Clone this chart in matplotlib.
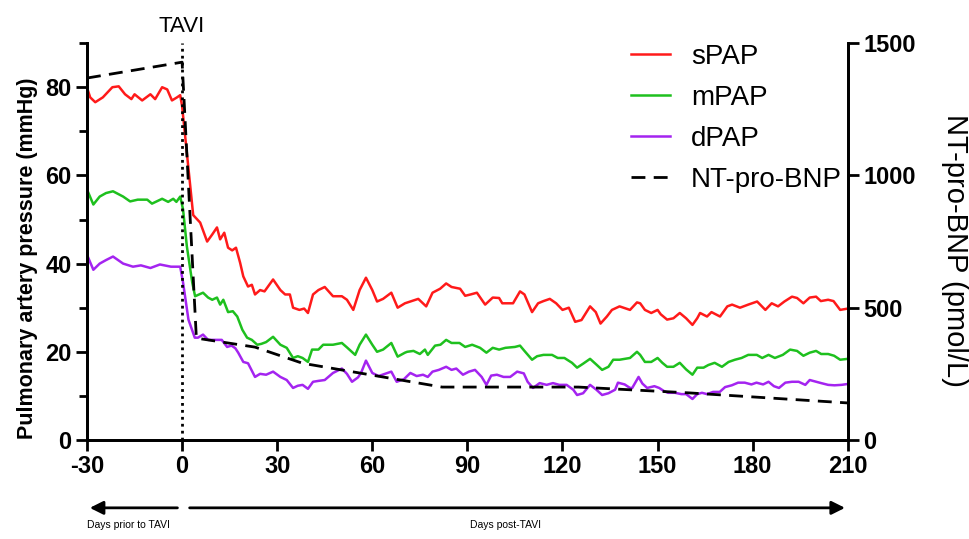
import numpy as np
import matplotlib.pyplot as plt
from matplotlib.ticker import MultipleLocator

plt.rcParams['font.family'] = ['Liberation Sans', 'DejaVu Sans']
plt.rcParams['axes.unicode_minus'] = False

# sPAP (mmHg)
spap_day = [-30, -29, -27.4, -25, -22, -20, -18, -16, -15, -12.6, -10, -8.5, -6.3, -4.7, -3.2, -1.6, -0.6,
            0, 1.5, 3.5, 5.7, 7.9, 9.5, 11, 12, 13.3, 14.5, 15.8, 17, 18.3, 19.3, 20.8, 22, 23, 24.6, 26,
            28.7, 31, 32.5, 34, 35, 37, 38.5, 39.7, 41.3, 43, 45, 47.6, 50.4, 52, 54, 56, 58, 60, 61.5,
            63.4, 66, 68, 70.3, 72, 74.5, 77, 79, 81.4, 83.3, 85, 87.7, 89.3, 91, 93, 95.6, 98, 100, 101,
            104.4, 106.6, 108, 110.4, 112.3, 114, 116, 118, 120, 122, 124, 126, 128.7, 130.5, 132, 134,
            135.6, 138, 141.3, 143.5, 144.5, 146, 148, 150, 151, 153, 155, 157, 159, 161, 162.5, 163.4,
            165.6, 167, 169.7, 172, 173.5, 176, 178.6, 181.4, 184, 186, 188, 190, 192.4, 194, 196, 198,
            200, 201.5, 203.8, 205.5, 207.6, 210]
spap = [79.9, 77.7, 76.6, 77.7, 80.0, 80.2, 78.4, 77.3, 78.4, 77.0, 78.4, 77.3, 80.0, 79.5, 77.0, 77.7, 78.2,
        75.7, 65.2, 51.0, 49.3, 45.0, 46.6, 48.2, 45.5, 47.0, 43.6, 43.0, 43.6, 40.2, 37.1, 34.8, 35.2, 33.0,
        34.0, 33.7, 36.4, 34.0, 33.0, 33.0, 30.0, 29.5, 29.8, 28.8, 33.0, 34.0, 34.7, 32.6, 32.6, 31.8, 29.5,
        34.0, 36.8, 34.0, 31.4, 32.0, 33.4, 30.0, 31.0, 31.4, 32.0, 30.3, 33.4, 34.3, 35.5, 34.7, 34.3, 32.7,
        33.0, 33.4, 30.7, 32.3, 32.2, 31.0, 31.0, 33.7, 33.0, 29.0, 31.0, 31.5, 32.0, 31.0, 29.5, 30.0, 26.8,
        27.2, 30.3, 29.0, 26.4, 28.0, 29.5, 30.3, 29.5, 31.2, 31.0, 29.5, 28.8, 29.5, 28.5, 27.3, 27.6, 28.8,
        27.6, 26.1, 27.6, 28.8, 28.0, 29.0, 28.0, 30.3, 30.7, 30.0, 30.7, 31.4, 29.5, 31.0, 30.3, 31.4, 32.5,
        32.2, 31.0, 32.3, 32.5, 31.5, 31.8, 31.5, 29.5, 29.8]

# mPAP (mmHg)
mpap_day = [-30, -28, -26, -24, -21.8, -18.6, -16.4, -14, -11, -9.5, -6.3, -4.4, -2.8, -1.8, -0.6, 0.3, 1.5,
            3.2, 4.1, 6.6, 8.2, 9.5, 11, 12, 13, 14.5, 16, 17.4, 19, 20.5, 22, 23.7, 25, 26.5, 28.7, 31, 33,
            35, 36.5, 38, 39.7, 41, 43, 44.5, 47.6, 50.4, 52, 54.6, 56, 58, 60, 61.5, 63.4, 66, 68, 70.3, 71,
            73, 75, 76.6, 77.5, 79.8, 81.5, 83.3, 85, 87.5, 89.3, 91.5, 94, 96, 98, 100, 102, 105, 106.6, 108,
            110.4, 112, 114, 116.7, 118.5, 120.6, 123, 124.6, 126.5, 128.7, 130.7, 132.5, 134.5, 136, 138,
            141.3, 143.5, 144.5, 146, 148, 150, 151.5, 153, 155, 157, 159, 161, 162.5, 164.5, 166, 168, 170.3,
            172.4, 174.4, 176.5, 178.6, 181.3, 183, 185, 187, 189.5, 191.8, 194, 196, 198, 200, 201.6, 203.8,
            205.7, 207.6, 210]
mpap = [56.8, 53.4, 55.2, 56.0, 56.4, 55.2, 54.1, 54.5, 54.5, 53.6, 54.7, 54.0, 54.7, 54.0, 55.2, 52.3, 43.9,
        35.7, 32.6, 33.4, 32.3, 31.8, 32.3, 30.7, 31.8, 29.0, 29.2, 28.0, 25.0, 23.2, 22.7, 21.6, 21.8, 22.2,
        23.4, 21.6, 20.9, 18.6, 19.0, 18.6, 17.7, 20.5, 20.5, 21.6, 21.6, 22.0, 21.0, 19.3, 21.6, 23.9, 21.6,
        20.0, 20.5, 22.0, 18.9, 19.8, 20.0, 20.2, 19.5, 20.5, 19.3, 21.4, 21.6, 22.7, 22.0, 22.0, 21.1, 21.6,
        20.9, 19.8, 20.9, 20.5, 20.9, 21.1, 21.4, 20.2, 18.2, 19.0, 19.3, 19.3, 18.6, 18.6, 17.5, 16.4, 17.3,
        18.4, 17.1, 15.9, 16.6, 18.2, 18.2, 18.6, 20.0, 19.3, 17.7, 17.7, 18.6, 17.5, 16.6, 16.6, 17.5, 16.0,
        14.8, 16.4, 16.4, 17.0, 17.5, 16.6, 17.7, 18.2, 18.6, 19.3, 19.3, 18.6, 19.3, 18.6, 19.3, 20.5, 20.2,
        19.1, 19.8, 20.2, 19.5, 19.5, 19.1, 18.2, 18.4]

# dPAP (mmHg)
dpap_day = [-30, -28, -26, -24, -21.8, -18.6, -15.5, -13, -10, -7, -3.5, -0.6, 0.3, 2, 4, 5, 6.6, 8.2, 10.4,
            12.5, 14.2, 15.6, 16.8, 17.7, 19.3, 20.8, 23, 24.6, 26.5, 28.7, 31, 33, 35, 36.5, 38, 39.7, 41.3,
            43, 45, 47.6, 50.4, 52, 53.6, 55.5, 56.5, 58, 60, 62, 64, 66, 67.7, 70, 72, 74, 76, 77.5, 79, 81,
            83.3, 85, 86.5, 88.6, 90.5, 92.4, 94.5, 96, 97.5, 99.3, 101.4, 103.5, 105.7, 107.8, 109, 110.7,
            112.8, 115, 117, 119, 121.3, 123.4, 124.6, 126.5, 128.7, 130.7, 132.5, 134.5, 136.6, 137.5, 139.6,
            141.3, 142, 144, 145.2, 146.7, 149, 150.5, 152, 153.3, 155.5, 157.5, 159, 161, 162.5, 164, 165.6,
            167.5, 169.6, 171.3, 173.4, 175.4, 177.5, 179.6, 181.2, 183.3, 185, 186.7, 188.3, 190.3, 192.4,
            194.5, 196.6, 198, 200, 201.6, 203.8, 205.8, 208, 210]
dpap = [42.0, 38.6, 40.0, 40.8, 41.6, 40.0, 39.3, 39.6, 39.0, 39.8, 39.3, 39.3, 35.7, 27.3, 23.2, 23.2, 23.9,
        22.7, 22.7, 22.7, 21.1, 21.4, 20.8, 19.8, 17.7, 17.4, 14.3, 15.0, 14.8, 15.5, 14.3, 13.6, 11.8, 12.3,
        12.5, 11.6, 13.2, 13.4, 13.6, 15.2, 16.2, 15.0, 13.2, 14.2, 15.3, 18.0, 15.2, 14.5, 15.0, 15.5, 13.2,
        13.8, 15.2, 14.5, 14.8, 14.3, 15.5, 15.9, 16.6, 15.9, 16.2, 14.8, 15.5, 15.9, 14.3, 12.5, 14.6, 14.8,
        14.3, 14.3, 15.5, 15.1, 13.2, 11.8, 12.9, 12.5, 12.9, 12.5, 12.5, 11.4, 10.2, 10.6, 12.5, 11.4, 10.2,
        10.6, 11.4, 13.0, 12.6, 11.8, 11.8, 14.3, 12.8, 11.8, 12.2, 11.8, 11.1, 10.7, 10.7, 10.4, 10.4, 9.3,
        10.4, 10.7, 10.4, 10.9, 10.9, 12.0, 12.4, 13.0, 13.0, 12.6, 13.0, 12.6, 13.2, 12.2, 11.8, 13.0, 13.2,
        13.2, 12.5, 13.6, 13.2, 12.9, 12.5, 12.4, 12.5, 12.7]

# NT-pro-BNP (pmol/L)
bnp_day = [-30, 0, 4.5, 23, 38, 82, 125, 160, 210]
bnp = [1368, 1428, 385, 351, 290, 200, 200, 178, 140]

xticks = [-30, 0, 30, 60, 90, 120, 150, 180, 210]

fig = plt.figure(figsize=(9.7, 5.39), dpi=100)
ax = fig.add_axes([0.0897, 0.1837, 0.7843, 0.7363])
ax2 = ax.twinx()

l1, = ax.plot(spap_day, spap, color='#ff1a1a', lw=1.8, label='sPAP')
l2, = ax.plot(mpap_day, mpap, color='#1ec01e', lw=1.8, label='mPAP')
l3, = ax.plot(dpap_day, dpap, color='#a424f0', lw=1.8, label='dPAP')
l4, = ax2.plot(bnp_day, bnp, '--', color='black', lw=2, dashes=(5, 3), label='NT-pro-BNP')

ax.axvline(0, color='black', lw=2, ls=(0, (1, 1.5)))
fig.text(182 / 970, 1 - 27 / 539, 'TAVI', ha='center', va='center', fontsize=16)

ax.set_xlim(-30, 210)
ax.set_ylim(0, 90)
ax2.set_ylim(0, 1500)
ax.set_xticks(xticks)
ax.set_yticks([0, 20, 40, 60, 80])
ax.yaxis.set_minor_locator(MultipleLocator(10))
ax2.set_yticks([0, 500, 1000, 1500])

for a in (ax, ax2):
    a.spines['top'].set_visible(False)
    for s in a.spines.values():
        s.set_linewidth(2)
    a.tick_params(which='major', width=2, length=8, labelsize=17, pad=3)
    for lab in a.get_xticklabels() + a.get_yticklabels():
        lab.set_fontweight('bold')
ax.tick_params(which='minor', width=2, length=6)

fig.text(28 / 970, 1 - 258 / 539, 'Pulmonary artery pressure (mmHg)', rotation=90,
         ha='center', va='center', fontsize=15.5, fontweight='bold')
fig.text(955 / 970, 1 - 250 / 539, 'NT-pro-BNP (pmol/L)', rotation=270,
         ha='center', va='center', fontsize=21)

ax2.legend(handles=[l1, l2, l3, l4], loc='upper right', bbox_to_anchor=(842 / 970, 1 - 44 / 539),
           bbox_transform=fig.transFigure, frameon=False, borderpad=0, borderaxespad=0,
           fontsize=20, labelspacing=0.54, handlelength=1.4, handletextpad=0.75)

# arrows under the x axis
tr = ax.get_xaxis_transform()
ax.annotate('', xy=(-30, -0.171), xytext=(-0.6, -0.171), xycoords=tr, textcoords=tr,
            arrowprops=dict(arrowstyle='-|>', lw=2, color='black', mutation_scale=20))
ax.annotate('', xy=(210, -0.171), xytext=(1.5, -0.171), xycoords=tr, textcoords=tr,
            arrowprops=dict(arrowstyle='-|>', lw=2, color='black', mutation_scale=20))
ax.text(-30, -0.215, 'Days prior to TAVI', transform=tr, ha='left', va='center', fontsize=7.5)
ax.text(102, -0.215, 'Days post-TAVI', transform=tr, ha='center', va='center', fontsize=7.5)

fig.savefig('out.png', dpi=100)
